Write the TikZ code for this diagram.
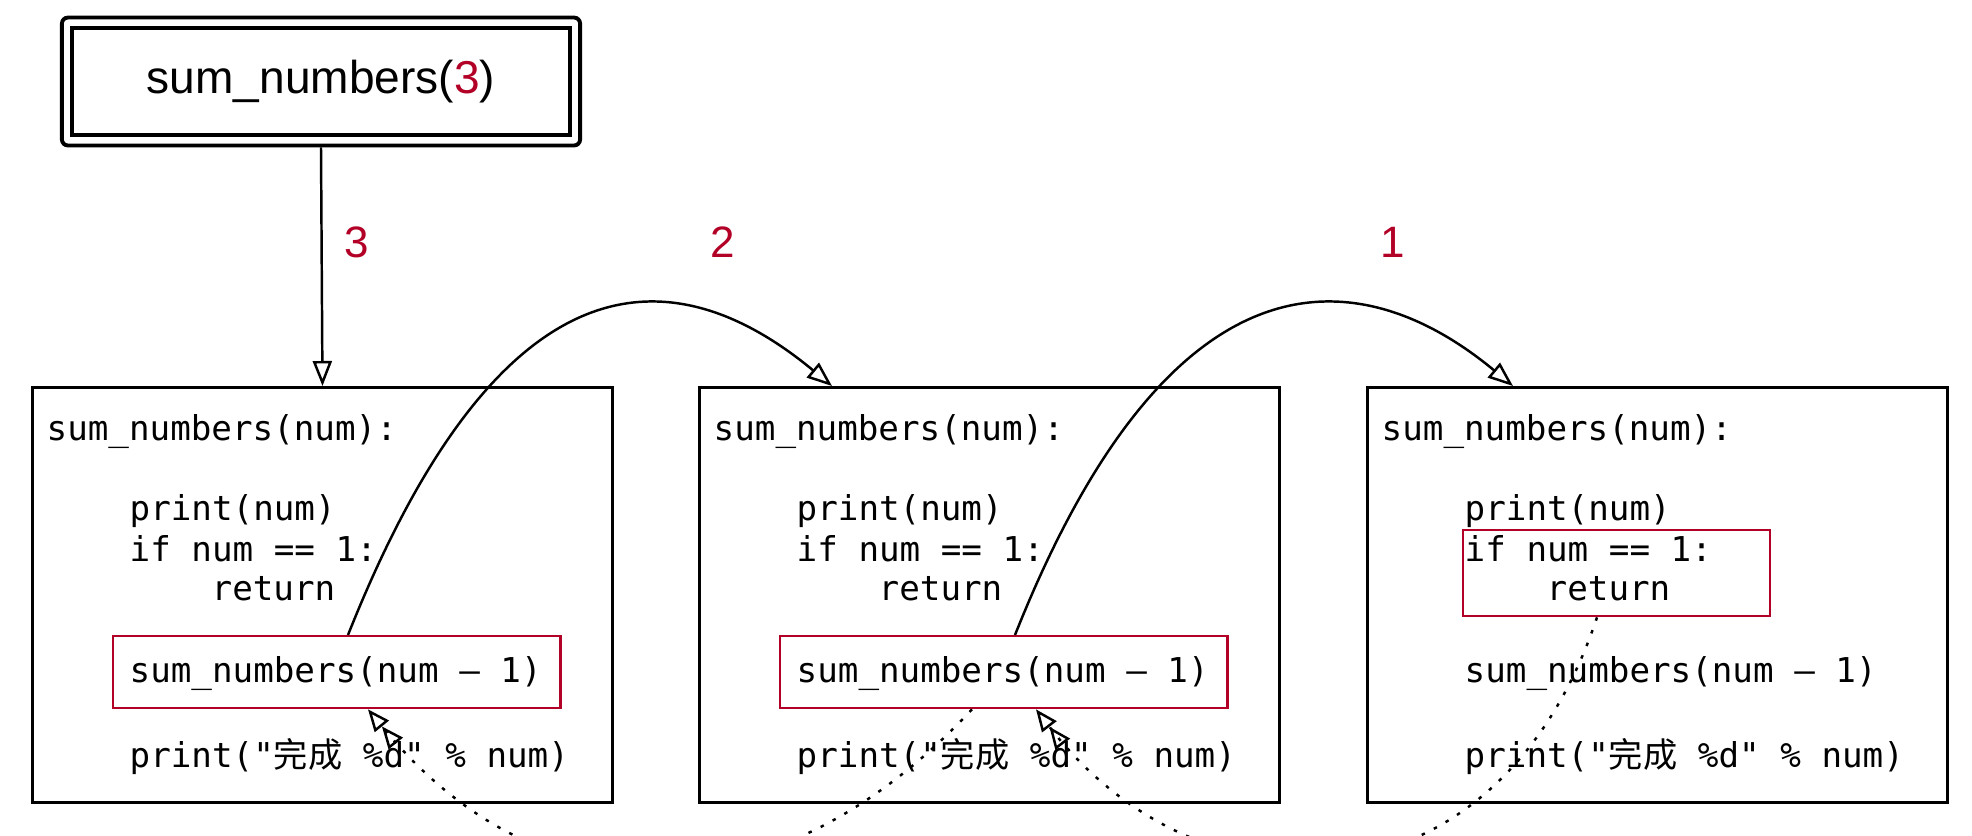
\documentclass[tikz,border=0pt]{standalone}
\usepackage{fontspec}
\setmainfont{Liberation Sans}
\setmonofont{DejaVu Sans Mono}
\newfontfamily\cjk{Noto Sans CJK SC}
\usetikzlibrary{arrows.meta, fit}
\definecolor{numred}{RGB}{178,0,38}

\begin{document}
\begin{tikzpicture}[x=0.01cm, y=-0.01cm,
	>={Triangle[open, length=0.25cm, width=0.19cm]},
	stackframe/.style={draw, line width=0.75pt, anchor=north west, inner sep=0,
		minimum width=5.8cm, minimum height=4.15cm},
	hlbox/.style={draw=numred, line width=0.65pt, anchor=north west, inner sep=0},
	codeline/.style={font=\ttfamily\fontsize{9.73}{12}\selectfont, anchor=base west, inner sep=0},
	stepnum/.style={text=numred, font=\fontsize{12.5}{14}\selectfont, inner sep=0},
	callbox/.style={draw, line width=1.1pt, inner sep=0, minimum width=4.97cm,
		minimum height=1.07cm, font=\fontsize{13.1}{15}\selectfont},
	callouter/.style={draw, line width=1.1pt, rounded corners=0.06cm, inner sep=0.085cm},
	callarrow/.style={->, line width=0.7pt},
	retarrow/.style={-{Triangle[open, length=0.22cm, width=0.18cm]
		Triangle[open, length=0.22cm, width=0.18cm]}, line width=0.7pt,
		dash pattern=on 0.035cm off 0.1cm}]
	\path[use as bounding box, fill=white] (0,0) rectangle (1972,835);
	
	% the first call
	\node[callbox] (call) at (321,81.5) {sum\_numbers(\textcolor{numred}{3})};
	\node[callouter, fit=(call)] (callframe) {};
	
	% one frame for each call
	\foreach \i/\dx in {1/0, 2/667, 3/1335} {
		\node[stackframe] (f\i) at (31+\dx,386) {};
		\node[codeline] (h\i) at (46+\dx,440) {sum\_numbers(num):};
		\node[codeline] (p\i) at (129+\dx,520) {print(num)};
		\node[codeline] (i\i) at (129+\dx,561) {if num == 1:};
		\node[codeline] (t\i) at (211+\dx,600) {return};
		\node[codeline] (c\i) at (129+\dx,682) {sum\_numbers(num – 1)};
		\node[codeline] (e\i) at (129+\dx,767) {print("{\cjk 完成} \%d" \% num)};
	}
	
	\node[hlbox, minimum width=4.47cm, minimum height=0.72cm] (r1) at (112,635) {};
	\node[hlbox, minimum width=4.47cm, minimum height=0.72cm] (r2) at (779,635) {};
	\node[hlbox, minimum width=3.07cm, minimum height=0.86cm] (r3) at (1462,529) {};
	
	\node[stepnum] (n3) at (357,242) {3};
	\node[stepnum] (n2) at (723,242) {2};
	\node[stepnum] (n1) at (1393,242) {1};
	
	% calls
	\draw[callarrow] (callframe.south) -- (f1.north);
	\draw[callarrow] ([shift={(236,0)}]r1.north west) .. controls +(157,-395) and +(-152,-126) .. ([shift={(134,0)}]f2.north west);
	\draw[callarrow] ([shift={(236,0)}]r2.north west) .. controls +(157,-395) and +(-152,-126) .. ([shift={(147,0)}]f3.north west);
	
	% returns
	\begin{scope}
		\clip (0,0) rectangle (1972,835);
		\draw[retarrow] ([shift={(193,0)}]r2.south west) .. controls +(-190,204) and +(176,216) .. ([shift={(256,0)}]r1.south west);
		\draw[retarrow] ([shift={(135,0)}]r3.south west) .. controls +(-100,300) and +(165,215) .. ([shift={(257,0)}]r2.south west);
	\end{scope}
\end{tikzpicture}
\end{document}
